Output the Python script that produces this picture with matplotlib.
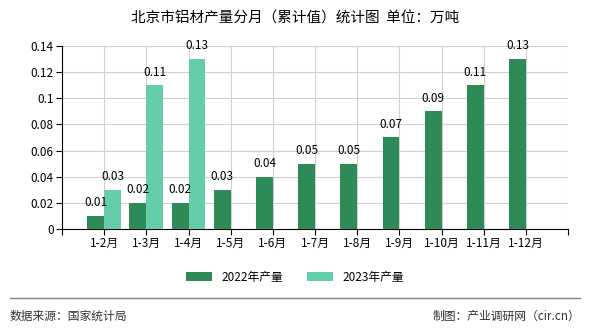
import matplotlib

matplotlib.use("Agg")
import matplotlib.pyplot as plt

plt.rcParams["font.family"] = ["Noto Sans CJK SC", "DejaVu Sans"]

months = ["1-2月", "1-3月", "1-4月", "1-5月", "1-6月", "1-7月",
          "1-8月", "1-9月", "1-10月", "1-11月", "1-12月"]
y2022 = [0.01, 0.02, 0.02, 0.03, 0.04, 0.05, 0.05, 0.07, 0.09, 0.11, 0.13]
y2023 = [0.03, 0.11, 0.13]
DARK, LIGHT = "#2E8B57", "#66CDAA"

fig = plt.figure(figsize=(5.9, 3.3), dpi=100)
ax = fig.add_axes([0.105, 0.306, 0.858, 0.555])

w = 0.4
x22 = [i + 1 for i in range(len(y2022))]
x23 = [i + 1 for i in range(len(y2023))]
ax.bar([x - w / 2 for x in x22], y2022, width=w, color=DARK, label="2022年产量", zorder=3)
ax.bar([x + w / 2 for x in x23], y2023, width=w, color=LIGHT, label="2023年产量", zorder=3)
for x, v in zip(x22, y2022):
    ax.text(x - w / 2, v + 0.005, f"{v:g}", ha="center", va="bottom", fontsize=8.5)
for x, v in zip(x23, y2023):
    ax.text(x + w / 2, v + 0.005, f"{v:g}", ha="center", va="bottom", fontsize=8.5)

ax.set_xlim(0, 12)
ax.set_ylim(0, 0.14)
ax.set_xticks(range(13))
ax.set_xticklabels([""] + months + [""], fontsize=8.5)
ax.set_yticks([0, 0.02, 0.04, 0.06, 0.08, 0.1, 0.12, 0.14])
ax.set_yticklabels(["0", "0.02", "0.04", "0.06", "0.08", "0.1", "0.12", "0.14"], fontsize=8.5)
ax.grid(True, color="#d0d0d0", lw=0.8, zorder=0)
ax.spines["top"].set_visible(False)
ax.spines["right"].set_visible(False)
ax.tick_params(length=4, width=0.8, pad=2)

fig.text(0.5, 0.945, "北京市铝材产量分月（累计值）统计图  单位：万吨",
         ha="center", va="center", fontsize=10.5)
fig.legend(loc="center", bbox_to_anchor=(0.5, 0.16), ncol=2, frameon=False,
           fontsize=8.5, handlelength=2.2, handleheight=0.8, columnspacing=2)
fig.add_artist(plt.Line2D([0.017, 0.983], [0.097, 0.097], color="#808080", lw=1))
fig.text(0.017, 0.042, "数据来源：国家统计局", ha="left", va="center", fontsize=8.5, color="#333333")
fig.text(0.983, 0.042, "制图：产业调研网（cir.cn）", ha="right", va="center", fontsize=8.5, color="#333333")

fig.savefig("out.png", dpi=100)
